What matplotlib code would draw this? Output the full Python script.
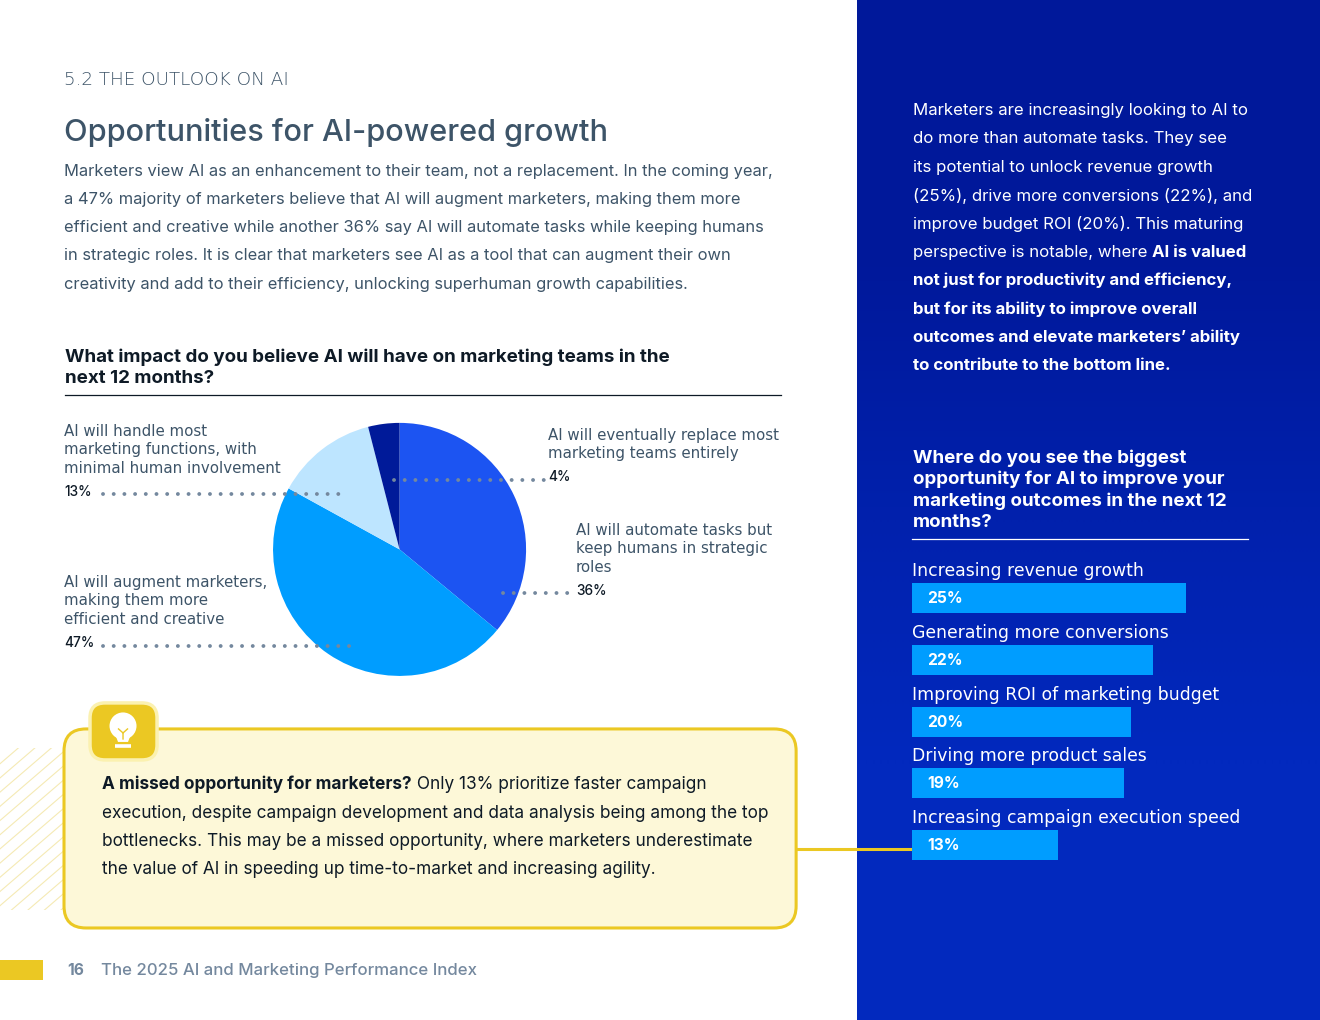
import numpy as np
import matplotlib
matplotlib.use("Agg")
import matplotlib.pyplot as plt
from matplotlib.patches import Rectangle, FancyBboxPatch, Circle, Polygon

plt.rcParams['font.family'] = ['Inter', 'DejaVu Sans']

# pie data
pie_labels = ["AI will automate tasks but\nkeep humans in strategic\nroles",
              "AI will augment marketers,\nmaking them more\nefficient and creative",
              "AI will handle most\nmarketing functions, with\nminimal human involvement",
              "AI will eventually replace most\nmarketing teams entirely"]
pie_values = [36, 47, 13, 4]
pie_colors = ["#1C54F2", "#009DFF", "#BDE5FF", "#001A99"]

# bar data, lengths, the printed labels are rounded
bar_labels = ["Increasing revenue growth", "Generating more conversions",
              "Improving ROI of marketing budget", "Driving more product sales",
              "Increasing campaign execution speed"]
bar_values = [25, 22, 20, 19.3, 13.3]
bar_printed = ["25%", "22%", "20%", "19%", "13%"]

intro_lines = ["Marketers view AI as an enhancement to their team, not a replacement. In the coming year,",
               "a 47% majority of marketers believe that AI will augment marketers, making them more",
               "efficient and creative while another 36% say AI will automate tasks while keeping humans",
               "in strategic roles. It is clear that marketers see AI as a tool that can augment their own",
               "creativity and add to their efficiency, unlocking superhuman growth capabilities."]
side_lines = [("Marketers are increasingly looking to AI to",),
              ("do more than automate tasks. They see",),
              ("its potential to unlock revenue growth",),
              ("(25%), drive more conversions (22%), and",),
              ("improve budget ROI (20%). This maturing",),
              ("perspective is notable, where ", "AI is valued"),
              ("", "not just for productivity and efficiency,"),
              ("", "but for its ability to improve overall"),
              ("", "outcomes and elevate marketers\u2019 ability"),
              ("", "to contribute to the bottom line.")]
callout_lines = [("", "A missed opportunity for marketers?", " Only 13% prioritize faster campaign"),
                 ("execution, despite campaign development and data analysis being among the top",),
                 ("bottlenecks. This may be a missed opportunity, where marketers underestimate",),
                 ("the value of AI in speeding up time-to-market and increasing agility.",)]

W, H = 1320, 1020
YELLOW = "#EBC823"
SLATE = "#3D5468"
GREY = "#74889E"
WIDE = ['DejaVu Sans']

fig = plt.figure(figsize=((W + 0.2) / 100, (H + 0.2) / 100), dpi=100)
bg = fig.add_axes([0, 0, 1, 1])
bg.set_xlim(0, W)
bg.set_ylim(H, 0)
bg.axis("off")


def runs(x, y, parts, size, color, ax=bg, z=7):
    # alternating normal / bold pieces on one line
    r = fig.canvas.get_renderer()
    for i, part in enumerate(parts):
        if not part:
            continue
        t = ax.text(x, y, part, fontsize=size, color=color, va="center", ha="left", zorder=z,
                    fontweight="bold" if i % 2 else "normal")
        x += t.get_window_extent(r).width


# blue side panel
grad = np.array([[0.0], [1.0]])
cmap = matplotlib.colors.LinearSegmentedColormap.from_list("panel", ["#00189A", "#0229BE"])
bg.imshow(grad, extent=(857, W, H, 0), cmap=cmap, aspect="auto", zorder=0, interpolation="bilinear")
bg.set_xlim(0, W)
bg.set_ylim(H, 0)

# headers
bg.text(64, 79.5, "5.2 THE OUTLOOK ON AI", fontsize=13.2, family=WIDE, color=SLATE, va="center", fontweight="light")
bg.text(64, 132, "Opportunities for AI-powered growth", fontsize=22.1, color=SLATE, va="center", fontweight="medium")
for i, line in enumerate(intro_lines):
    bg.text(64, 171 + i * 28.3, line, fontsize=11.85, color=SLATE, va="center")

bg.text(65, 357, "What impact do you believe AI will have on marketing teams in the", fontsize=13.5, fontweight="bold", color="#0E1A26", va="center")
bg.text(65, 378.5, "next 12 months?", fontsize=13.5, fontweight="bold", color="#0E1A26", va="center")
bg.plot([65, 781], [395.5, 395.5], color="#0E1A26", lw=0.9)

# pie, 126.5 px radius around (399.5, 549.5)
pie_ax = fig.add_axes([273 / W, 1 - 676 / H, 253 / W, 253 / H])
pie_ax.pie(pie_values, colors=pie_colors, startangle=90, counterclock=False, radius=1)
pie_ax.set_xlim(-1, 1)
pie_ax.set_ylim(-1, 1)

# leaders and labels over the pie
over = fig.add_axes([0, 0, 1, 1], facecolor="none")
over.set_xlim(0, W)
over.set_ylim(H, 0)
over.axis("off")
leaders = [(503, 574, 593.5), (103, 353, 646), (103, 345, 494.5), (394, 548, 480)]
for (x0, x1, y) in leaders:
    over.plot([x0, x1], [y, y], color=GREY, lw=2.8, ls=(0, (0.01, 2.74)), dash_capstyle="round")

label_pos = [(576, 530.5), (64, 582.5), (64, 431.5), (548, 435.5)]
value_pos = [(576, 590.5), (64, 642.5), (64, 491.5), (548, 476.5)]
for lab, val, lp, vp in zip(pie_labels, pie_values, label_pos, value_pos):
    for j, row in enumerate(lab.split("\n")):
        over.text(lp[0], lp[1] + j * 18.3, row, fontsize=10.8, family=WIDE, color=SLATE, va="center")
    over.text(vp[0], vp[1], f"{val}%", fontsize=9.8, color="#0E1A26", va="center", fontweight="medium")

# side text
for i, parts in enumerate(side_lines):
    runs(913, 110.5 + i * 28.33, parts, 12.1, "white")

for i, line in enumerate(["Where do you see the biggest", "opportunity for AI to improve your",
                          "marketing outcomes in the next 12", "months?"]):
    bg.text(913, 458 + i * 21.6, line, fontsize=13.5, fontweight="bold", color="white", va="center")
bg.plot([912, 1248], [539.5, 539.5], color="white", lw=0.9)

# connector goes under the bars
bg.plot([796, 912], [849.5, 849.5], color=YELLOW, lw=2.2, solid_capstyle="butt", zorder=2)

# bars, 10.95 px per percent
bar_ax = fig.add_axes([912 / W, 1 - 876 / H, 348 / W, (876 - 567) / H], facecolor="none")
bar_ax.set_xlim(0, 348 / 10.95)
bar_ax.set_ylim(876, 567)
bar_ax.axis("off")
bar_y = np.array([598, 660, 722, 783, 845])
bar_ax.barh(bar_y, bar_values, height=30, color="#009DFF")
for y, p, lab in zip(bar_y, bar_printed, bar_labels):
    bar_ax.text(15 / 10.95, y, p, color="white", fontsize=11.2, fontweight="bold", va="center")
    bar_ax.text(0, y - 27.5, lab, color="white", fontsize=12.4, family=WIDE, va="center")

# hatch at the left of the callout
clip = Rectangle((0, 748), 63, 162, transform=bg.transData, fc="none", ec="none")
bg.add_patch(clip)
for x0 in np.arange(-170, 70, 16.5):
    ln, = bg.plot([x0, x0 + 190], [910, 910 - 190 * 0.86], color="#F5EAB4", lw=0.8, zorder=1)
    ln.set_clip_path(clip)

# callout box
bg.add_patch(FancyBboxPatch((64, 729), 732, 199, boxstyle="round,pad=0,rounding_size=22",
                            fc="#FDF8D8", ec=YELLOW, lw=2.2, zorder=3))
bg.add_patch(FancyBboxPatch((90, 703), 67, 57, boxstyle="round,pad=0,rounding_size=15",
                            fc=YELLOW, ec="#FBF1B0", lw=2.5, zorder=4))
# bulb icon
bg.add_patch(Circle((123, 726), 13.5, fc="white", ec="none", zorder=5))
bg.add_patch(Polygon([(115, 734), (131, 734), (128, 742), (118, 742)], fc="white", ec="none", zorder=5))
bg.plot([115, 131], [746.5, 746.5], color="white", lw=2.6, zorder=5, solid_capstyle="butt")
bg.plot([123, 123, 118.5], [739, 733, 729], color=YELLOW, lw=1, zorder=6)
bg.plot([123, 127.5], [733, 729], color=YELLOW, lw=1, zorder=6)

for i, parts in enumerate(callout_lines):
    runs(102, 784.5 + i * 28.4, parts, 12.4, "#0E1A26")

# footer
bg.add_patch(Rectangle((0, 960), 43, 20, fc=YELLOW, ec="none"))
bg.text(67, 970, "16", fontsize=11.2, fontweight="bold", color=GREY, va="center")
bg.text(101, 970, "The 2025 AI and Marketing Performance Index", fontsize=12.1, fontweight="medium", color=GREY, va="center")

fig.savefig("out.png", dpi=100)
